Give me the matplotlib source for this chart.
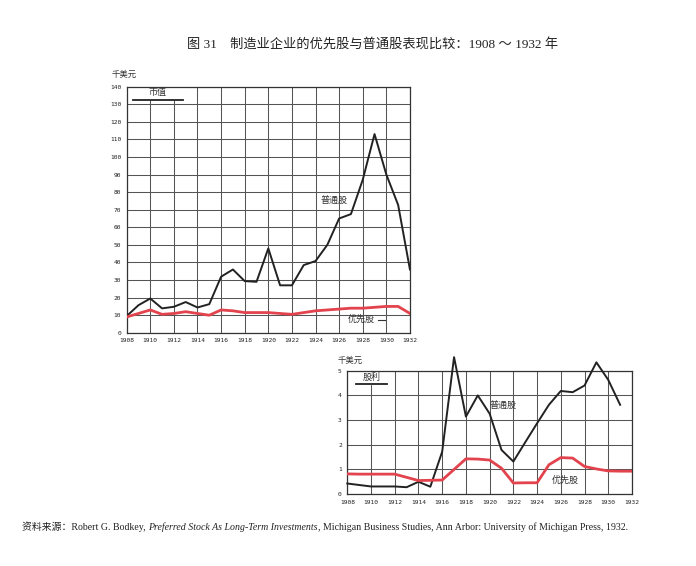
import matplotlib.pyplot as plt
from matplotlib.patches import Rectangle

plt.rcParams['font.family'] = ['Liberation Serif', 'Noto Sans CJK SC', 'DejaVu Sans']

# years
years = list(range(1908, 1933))

# market value, thousand dollars (top chart)
mv_common = [9.5, 15.7, 19.5, 13.9, 14.8, 17.5, 14.4, 16.3, 31.9, 36.0, 29.4, 29.0,
             48.0, 27.0, 27.0, 38.5, 40.8, 50.0, 65.0, 67.5, 87.0, 113.0, 90.0, 72.7, 36.0]
mv_pref = [9.0, 11.0, 13.0, 10.5, 11.0, 12.0, 11.0, 10.0, 13.0, 12.5, 11.5, 11.5,
           11.5, 11.0, 10.5, 11.5, 12.5, 13.0, 13.5, 14.0, 14.0, 14.5, 15.0, 15.0, 11.0]

# dividends, thousand dollars (bottom chart)
div_years = list(range(1908, 1932))
div_common = [0.43, 0.37, 0.31, 0.31, 0.31, 0.28, 0.50, 0.30, 1.72, 5.55, 3.14, 4.00,
              3.26, 1.79, 1.32, 2.10, 2.87, 3.62, 4.18, 4.13, 4.40, 5.34, 4.63, 3.62]
div_pref = [0.82, 0.81, 0.81, 0.81, 0.81, 0.68, 0.55, 0.56, 0.57, 1.00, 1.43, 1.42,
            1.38, 1.05, 0.45, 0.46, 0.46, 1.19, 1.48, 1.46, 1.12, 1.02, 0.94, 0.93, 0.93]

xticks = list(range(1908, 1933, 2))

RED = '#e2434d'
GRID = '#555555'

fig = plt.figure(figsize=(6.96, 5.66), dpi=100)
fig.patch.set_facecolor('white')


def style(ax, ymax, ystep):
    ax.set_xlim(1908, 1932)
    ax.set_ylim(0, ymax)
    ax.set_xticks(xticks)
    ax.set_xticklabels([str(y) for y in xticks], fontsize=4.5, family='DejaVu Sans Mono')
    ax.set_yticks(list(range(0, ymax + 1, ystep)))
    ax.set_yticklabels([str(v) for v in range(0, ymax + 1, ystep)], fontsize=4.5,
                       family='DejaVu Sans Mono')
    ax.tick_params(length=0, pad=4, colors='#222')
    ax.grid(True, color=GRID, lw=0.75)
    ax.set_axisbelow(True)
    for s in ax.spines.values():
        s.set_color('#333')
        s.set_linewidth(0.9)


# top chart: market value
ax1 = fig.add_axes([0.182, 0.412, 0.407, 0.435])
style(ax1, 140, 10)
ax1.plot(years, mv_common, color='#222', lw=1.4, zorder=3)
ax1.plot(years, mv_pref, color=RED, lw=2.0, zorder=3)
ax1.add_patch(Rectangle((0.003, 0.948), 0.21, 0.05, transform=ax1.transAxes,
                        color='white', zorder=2))
ax1.plot([0.022, 0.199], [0.946, 0.946], transform=ax1.transAxes, color='#222', lw=1.3,
         zorder=3)
ax1.text(0.11, 0.975, '市值', transform=ax1.transAxes, ha='center', va='center',
         fontsize=6.5, color='#333', zorder=4)
ax1.text(1925.6, 75.5, '普通股', ha='center', va='center', fontsize=6.5, color='#333')
ax1.text(1927.9, 7.5, '优先股', ha='center', va='center', fontsize=6.5, color='#333')
ax1.plot([1929.3, 1929.9], [7.5, 7.5], color='#333', lw=0.8)
ax1.text(-0.01, 1.05, '千美元', transform=ax1.transAxes, ha='center', va='center',
         fontsize=6, color='#333')

# bottom chart: dividends
ax2 = fig.add_axes([0.499, 0.127, 0.409, 0.218])
style(ax2, 5, 1)
ax2.plot(div_years, div_common, color='#222', lw=1.4, zorder=3, clip_on=False)
ax2.plot(years, div_pref, color=RED, lw=2.0, zorder=3)
ax2.add_patch(Rectangle((0.01, 0.893), 0.14, 0.1, transform=ax2.transAxes,
                        color='white', zorder=2))
ax2.plot([0.031, 0.138], [0.89, 0.89], transform=ax2.transAxes, color='#222', lw=1.3,
         zorder=3)
ax2.text(0.085, 0.945, '股利', transform=ax2.transAxes, ha='center', va='center',
         fontsize=6.5, color='#333', zorder=4)
ax2.text(1921.1, 3.6, '普通股', ha='center', va='center', fontsize=6.5, color='#333')
ax2.text(1926.4, 0.58, '优先股', ha='center', va='center', fontsize=6.5, color='#333')
ax2.text(0.01, 1.085, '千美元', transform=ax2.transAxes, ha='center', va='center',
         fontsize=6, color='#333')

fig.text(0.535, 0.922, '图 31　制造业企业的优先股与普通股表现比较：1908 ～ 1932 年',
         ha='center', va='center', fontsize=9.5, color='#222')

# source line, drawn in three pieces so the book title can be italic
source_parts = [
    ('资料来源：Robert G. Bodkey, ', 'normal'),
    ('Preferred Stock As Long-Term Investments', 'italic'),
    (', Michigan Business Studies, Ann Arbor: University of Michigan Press, 1932.', 'normal'),
]
renderer = fig.canvas.get_renderer()
x_px = 0.032 * fig.bbox.width
for txt, st in source_parts:
    t = fig.text(x_px / fig.bbox.width, 0.069, txt, ha='left', va='center',
                 fontsize=7.1, color='#222', style=st)
    x_px += t.get_window_extent(renderer).width

fig.savefig('out.png', dpi=100, facecolor='white')
